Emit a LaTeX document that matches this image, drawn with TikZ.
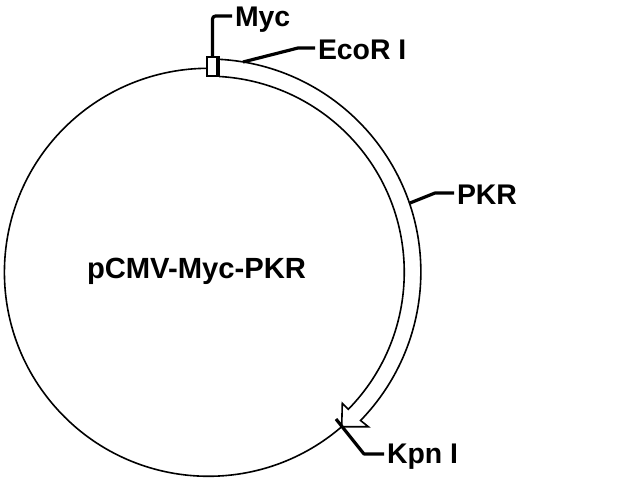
\documentclass[tikz,border=0pt]{standalone}
\usepackage{fontspec}
\setmainfont{Liberation Sans}
\tikzset{
  plasmid/.style={draw=black,line width=1.6pt,line join=miter},
  leader/.style={draw=black,line width=3.2pt,line join=round},
  lab/.style={font=\fontsize{28.4pt}{30pt}\selectfont\bfseries,text=black,anchor=base west,inner xsep=3pt,inner ysep=0pt,outer sep=0pt}
}
\begin{document}
\begin{tikzpicture}[x=1pt,y=-1pt]
\useasboundingbox[fill=white] (0,0) rectangle (640,480);
% backbone
\draw[plasmid] (341.7,426.7) arc[start angle=49.2,end angle=269.7,x radius=204,y radius=204];
% PKR band with arrow head
\draw[plasmid,fill=white] (219,59.3) arc[start angle=-87,end angle=44.2,x radius=213,y radius=213]
  -- (368.3,426.7) -- (341.7,426.7) -- (342.3,403.3) -- (348.3,409.3)
  arc[start angle=44.4,end angle=-86.8,x radius=196,y radius=196];
% Myc box
\draw[plasmid,fill=white] (207,57) rectangle (219,76);
\draw[draw=black,line width=3pt] (217.5,57) -- (217.5,76);
% labels
\node[lab] (myc) at (232,26) {Myc};
\node[lab] (eco) at (315,59.5) {EcoR I};
\node[lab] (pkr) at (454,204) {PKR};
\node[lab] (kpn) at (384,463) {Kpn I};
\node[lab,inner xsep=0pt,font=\fontsize{29.2pt}{32pt}\selectfont\bfseries] (name) at (87,278) {pCMV-Myc-PKR};
% leaders
\coordinate (mycA) at (212.5,57);
\coordinate (mycB) at (212.5,16);
\coordinate (mycC) at (232,16);
\draw[leader,rounded corners=3pt] (mycA) -- (mycB) -- (myc.west |- mycC);
\coordinate (ecoA) at (243,62);
\coordinate (ecoB) at (298,48);
\draw[leader] (ecoA) -- (ecoB) -- (eco.west |- ecoB);
\coordinate (pkrA) at (410,203);
\coordinate (pkrB) at (435,193);
\draw[leader] (pkrA) -- (pkrB) -- (pkr.west |- pkrB);
\coordinate (kpnA) at (336,419);
\coordinate (kpnB) at (364,454);
\draw[leader] (kpnA) -- (kpnB) -- (kpn.west |- kpnB);
\end{tikzpicture}
\end{document}
